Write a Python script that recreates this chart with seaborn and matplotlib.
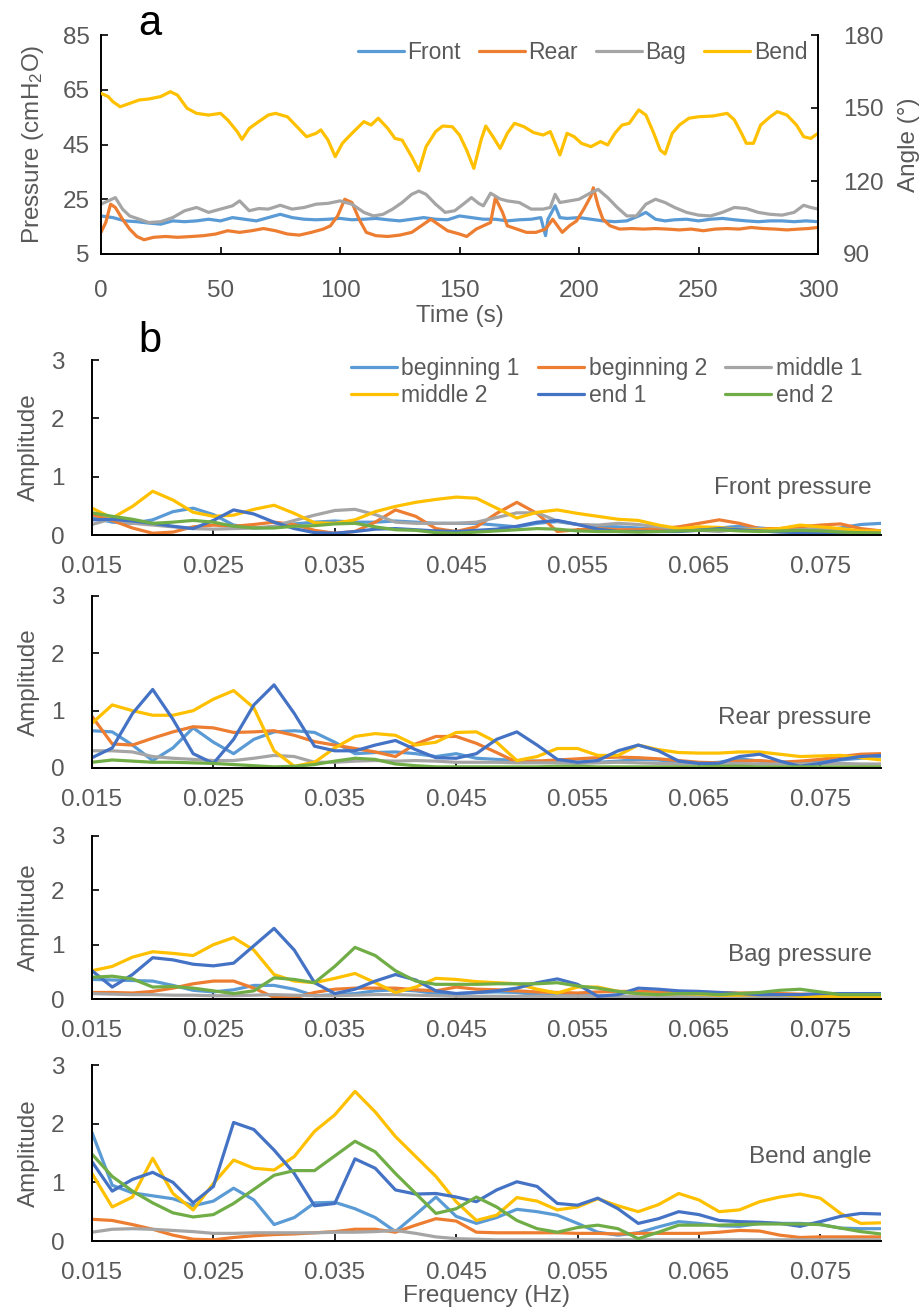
import numpy as np
import pandas as pd
import matplotlib
matplotlib.use('Agg')
import matplotlib.pyplot as plt
from matplotlib.lines import Line2D
import seaborn as sns

sns.set_theme(style='white')
plt.rcParams['font.family'] = ['Liberation Sans', 'DejaVu Sans']
plt.rcParams['mathtext.default'] = 'regular'

GREY = '#595959'

# ---------------- panel a: time series ----------------
front_t = [0, 5, 10, 15, 20, 25, 30, 35, 40, 45, 50, 55, 60, 65, 70, 75, 80, 85, 90, 95,
           100, 105, 110, 115, 120, 125, 130, 135, 140, 145, 150, 155, 160, 165, 170, 175, 180,
           184, 186, 187, 190, 192, 195, 200, 205, 210, 215, 220, 225, 228, 232, 236,
           240, 245, 250, 255, 260, 265, 270, 275, 280, 285, 290, 295, 300]
front_p = [18.9, 18.3, 17.1, 16.8, 16.3, 15.9, 17.1, 16.8, 17.1, 17.7, 17.1, 18.3, 17.7, 17.1,
           18.3, 19.5, 18.3, 17.7, 17.5, 17.7, 18.0, 17.5, 17.7, 18.0, 17.5, 17.1, 17.7, 18.3,
           17.7, 17.5, 18.9, 18.3, 17.7, 17.7, 17.1, 17.5, 17.7, 18.3, 11.7, 17.7, 22.6, 18.3,
           18.0, 18.3, 17.7, 17.1, 16.8, 17.1, 18.9, 20.2, 17.7, 17.1, 17.5, 17.7, 17.1, 17.7,
           18.0, 17.5, 17.1, 16.8, 17.1, 17.1, 16.8, 17.1, 16.8]

rear_t = [0, 2, 4, 6, 9, 12, 15, 18, 22, 27, 32, 38, 43, 48, 53, 58, 63, 68, 73, 78,
          83, 88, 93, 96, 99, 102, 105, 108, 111, 115, 120, 125, 130, 134, 138, 141, 145, 150,
          153, 157, 160, 163, 165, 168, 170, 174, 178, 182, 186, 189, 191, 193, 196, 199, 202,
          205, 206, 208, 210, 213, 217, 222, 227, 232, 237, 242, 247, 252, 257, 262, 267, 272,
          277, 282, 287, 292, 296, 300]
rear_p = [12.9, 16.5, 23.2, 22.0, 17.7, 14.1, 11.4, 10.2, 11.1, 11.4, 11.1, 11.4, 11.7, 12.3,
          13.5, 12.9, 13.5, 14.3, 13.5, 12.3, 11.9, 12.9, 14.1, 15.3, 18.9, 25.0, 23.8, 17.7,
          12.9, 11.7, 11.4, 11.9, 12.9, 15.3, 17.7, 15.9, 13.5, 12.3, 11.4, 14.1, 15.3, 16.5,
          25.5, 20.2, 15.3, 14.1, 12.9, 12.9, 14.1, 17.7, 15.3, 12.9, 15.3, 17.1, 21.4, 26.2,
          29.2, 22.6, 17.7, 15.3, 14.1, 14.3, 14.1, 14.3, 14.1, 13.8, 14.1, 13.5, 14.1, 14.3,
          14.1, 14.7, 14.3, 14.1, 13.8, 14.1, 14.3, 14.7]

bag_t = [0, 3, 6, 9, 12, 16, 20, 25, 30, 35, 40, 45, 50, 55, 58, 62, 66, 70, 75, 80,
         85, 90, 95, 100, 105, 110, 114, 118, 122, 126, 130, 133, 136, 140, 144, 148, 152, 155,
         158, 160, 163, 167, 170, 175, 180, 185, 188, 190, 192, 196, 200, 205, 208, 212, 216,
         220, 224, 228, 232, 236, 240, 245, 250, 255, 260, 265, 270, 275, 280, 285, 290, 294,
         297, 300]
bag_p = [23.2, 24.4, 25.6, 21.4, 18.9, 17.7, 16.5, 16.8, 18.3, 20.8, 22.0, 20.2, 21.4, 22.6,
         24.4, 20.8, 21.6, 21.4, 22.8, 21.4, 22.0, 23.2, 23.5, 24.4, 23.2, 20.2, 18.9, 19.5,
         21.4, 23.8, 26.8, 28.0, 26.8, 23.2, 20.2, 20.8, 23.5, 25.6, 23.5, 22.6, 27.2, 25.1,
         24.4, 23.8, 21.4, 21.4, 22.0, 26.8, 23.8, 24.4, 25.0, 27.4, 28.6, 25.6, 22.0, 18.9,
         18.9, 23.2, 25.0, 23.8, 22.0, 20.2, 19.2, 18.9, 20.2, 22.0, 21.6, 20.2, 19.5, 19.2,
         20.2, 22.8, 22.0, 21.4]

bend_t = [0, 3, 5, 8, 12, 16, 20, 25, 29, 32, 36, 40, 45, 50, 53, 57, 59, 62, 66, 70,
          73, 78, 82, 86, 90, 92, 95, 98, 101, 105, 110, 113, 116, 120, 123, 126, 130, 133,
          136, 140, 143, 147, 150, 153, 156, 159, 161, 164, 167, 170, 173, 177, 181, 185, 188,
          190, 192, 195, 198, 201, 205, 209, 212, 215, 218, 221, 225, 228, 231, 234, 236, 239,
          242, 246, 250, 256, 262, 265, 268, 270, 273, 276, 280, 283, 287, 291, 294, 297, 300]
bend_a = [156.0, 154.7, 152.6, 150.5, 151.9, 153.3, 153.7, 154.7, 156.7, 155.3, 149.9, 147.8,
          147.1, 147.8, 145.1, 140.3, 137.1, 141.6, 144.4, 147.1, 147.8, 146.4, 142.3, 138.2,
          139.6, 141.0, 136.8, 130.0, 135.5, 139.6, 144.4, 143.0, 145.8, 141.6, 137.5, 136.8,
          130.0, 124.2, 134.1, 140.3, 142.6, 142.3, 138.9, 132.7, 125.2, 136.8, 142.6, 138.2,
          133.4, 139.6, 143.7, 142.3, 139.9, 138.9, 140.3, 135.5, 130.7, 139.6, 138.2, 135.5,
          134.1, 136.2, 134.8, 139.6, 143.0, 143.7, 149.2, 147.1, 140.3, 132.7, 131.1, 139.6,
          143.0, 145.8, 146.4, 146.7, 147.8, 145.1, 139.6, 135.5, 135.5, 143.0, 146.4, 148.5,
          147.1, 143.0, 138.2, 137.5, 139.6]

# ---------------- panel b: spectra ----------------
freq = np.arange(9, 49) / 600.0
series_names = ['beginning 1', 'beginning 2', 'middle 1', 'middle 2', 'end 1', 'end 2']
series_colors = ['#5B9BD5', '#ED7D31', '#A5A5A5', '#FFC000', '#4472C4', '#70AD47']

front_b1 = [0.30, 0.22, 0.20, 0.26, 0.40, 0.46, 0.35, 0.17, 0.12, 0.13, 0.19, 0.22, 0.24, 0.22, 0.22, 0.24, 0.22, 0.20, 0.20, 0.20,
            0.17, 0.14, 0.20, 0.23, 0.18, 0.15, 0.14, 0.12, 0.10, 0.09, 0.10, 0.12, 0.15, 0.12, 0.09, 0.08, 0.06, 0.12, 0.18, 0.20]
front_b2 = [0.35, 0.25, 0.12, 0.03, 0.05, 0.14, 0.17, 0.15, 0.18, 0.22, 0.18, 0.08, 0.03, 0.06, 0.22, 0.43, 0.32, 0.11, 0.06, 0.14,
            0.37, 0.56, 0.37, 0.06, 0.09, 0.11, 0.09, 0.09, 0.11, 0.14, 0.20, 0.26, 0.20, 0.11, 0.11, 0.14, 0.17, 0.19, 0.11, 0.07]
front_m1 = [0.18, 0.28, 0.20, 0.17, 0.14, 0.11, 0.10, 0.11, 0.12, 0.15, 0.25, 0.34, 0.42, 0.44, 0.35, 0.22, 0.20, 0.20, 0.20, 0.22,
            0.30, 0.38, 0.38, 0.24, 0.18, 0.17, 0.20, 0.18, 0.14, 0.11, 0.08, 0.06, 0.10, 0.11, 0.07, 0.09, 0.11, 0.08, 0.06, 0.06]
front_m2 = [0.46, 0.29, 0.49, 0.75, 0.60, 0.39, 0.32, 0.34, 0.44, 0.51, 0.37, 0.21, 0.20, 0.26, 0.40, 0.49, 0.56, 0.61, 0.65, 0.63,
            0.46, 0.29, 0.39, 0.43, 0.37, 0.32, 0.27, 0.25, 0.17, 0.11, 0.14, 0.13, 0.09, 0.09, 0.11, 0.17, 0.14, 0.11, 0.07, 0.07]
front_e1 = [0.26, 0.27, 0.24, 0.20, 0.15, 0.11, 0.25, 0.43, 0.36, 0.22, 0.11, 0.04, 0.03, 0.06, 0.10, 0.11, 0.09, 0.07, 0.06, 0.08,
            0.10, 0.15, 0.22, 0.25, 0.18, 0.10, 0.06, 0.06, 0.06, 0.06, 0.08, 0.11, 0.09, 0.07, 0.05, 0.04, 0.03, 0.03, 0.03, 0.03]
front_e2 = [0.38, 0.32, 0.27, 0.20, 0.22, 0.25, 0.22, 0.15, 0.12, 0.12, 0.15, 0.16, 0.19, 0.20, 0.14, 0.09, 0.08, 0.04, 0.03, 0.05,
            0.07, 0.09, 0.11, 0.10, 0.07, 0.06, 0.06, 0.05, 0.06, 0.07, 0.08, 0.09, 0.07, 0.06, 0.07, 0.08, 0.07, 0.05, 0.04, 0.03]

rear_b1 = [0.65, 0.63, 0.40, 0.13, 0.35, 0.70, 0.45, 0.25, 0.50, 0.63, 0.65, 0.62, 0.45, 0.25, 0.27, 0.28, 0.25, 0.20, 0.25, 0.17,
           0.15, 0.13, 0.12, 0.10, 0.10, 0.10, 0.12, 0.15, 0.14, 0.10, 0.08, 0.10, 0.16, 0.12, 0.10, 0.10, 0.12, 0.14, 0.17, 0.20]
rear_b2 = [0.90, 0.42, 0.40, 0.52, 0.63, 0.72, 0.70, 0.62, 0.63, 0.65, 0.57, 0.46, 0.40, 0.34, 0.28, 0.20, 0.42, 0.55, 0.55, 0.43,
           0.27, 0.10, 0.12, 0.14, 0.16, 0.18, 0.19, 0.18, 0.16, 0.13, 0.10, 0.09, 0.12, 0.13, 0.10, 0.12, 0.15, 0.20, 0.24, 0.25]
rear_m1 = [0.30, 0.30, 0.28, 0.20, 0.17, 0.15, 0.13, 0.13, 0.17, 0.22, 0.20, 0.10, 0.10, 0.12, 0.13, 0.12, 0.13, 0.12, 0.10, 0.10,
           0.10, 0.09, 0.09, 0.09, 0.08, 0.09, 0.10, 0.09, 0.08, 0.07, 0.07, 0.08, 0.08, 0.07, 0.07, 0.07, 0.08, 0.08, 0.07, 0.07]
rear_m2 = [0.78, 1.10, 1.00, 0.92, 0.92, 1.00, 1.20, 1.35, 1.05, 0.30, 0.03, 0.10, 0.35, 0.55, 0.60, 0.57, 0.40, 0.45, 0.62, 0.63,
           0.45, 0.13, 0.20, 0.34, 0.34, 0.22, 0.22, 0.40, 0.32, 0.27, 0.26, 0.26, 0.28, 0.28, 0.24, 0.20, 0.21, 0.22, 0.18, 0.14]
rear_e1 = [0.18, 0.35, 0.95, 1.37, 0.85, 0.25, 0.08, 0.50, 1.10, 1.45, 0.95, 0.38, 0.30, 0.30, 0.40, 0.48, 0.32, 0.18, 0.17, 0.25,
           0.50, 0.63, 0.40, 0.15, 0.10, 0.13, 0.30, 0.40, 0.30, 0.12, 0.08, 0.08, 0.20, 0.24, 0.12, 0.03, 0.08, 0.15, 0.20, 0.22]
rear_e2 = [0.10, 0.14, 0.12, 0.10, 0.10, 0.09, 0.08, 0.06, 0.04, 0.02, 0.03, 0.06, 0.12, 0.17, 0.15, 0.07, 0.04, 0.02, 0.02, 0.02,
           0.02, 0.02, 0.02, 0.03, 0.03, 0.02, 0.02, 0.02, 0.02, 0.02, 0.02, 0.03, 0.03, 0.02, 0.02, 0.02, 0.02, 0.02, 0.02, 0.02]

bag_b1 = [0.36, 0.35, 0.34, 0.33, 0.25, 0.16, 0.13, 0.17, 0.25, 0.25, 0.18, 0.06, 0.08, 0.10, 0.15, 0.17, 0.15, 0.10, 0.10, 0.12,
          0.13, 0.12, 0.08, 0.06, 0.06, 0.06, 0.05, 0.05, 0.05, 0.05, 0.05, 0.05, 0.05, 0.05, 0.05, 0.05, 0.05, 0.05, 0.05, 0.05]
bag_b2 = [0.12, 0.12, 0.11, 0.14, 0.20, 0.28, 0.33, 0.33, 0.20, 0.03, 0.02, 0.12, 0.18, 0.20, 0.20, 0.20, 0.17, 0.15, 0.22, 0.18,
          0.17, 0.15, 0.13, 0.12, 0.11, 0.13, 0.14, 0.14, 0.13, 0.12, 0.12, 0.12, 0.11, 0.11, 0.10, 0.09, 0.08, 0.08, 0.08, 0.08]
bag_m1 = [0.10, 0.09, 0.08, 0.08, 0.07, 0.07, 0.06, 0.06, 0.07, 0.08, 0.07, 0.06, 0.06, 0.07, 0.08, 0.08, 0.07, 0.06, 0.05, 0.05,
          0.05, 0.05, 0.05, 0.05, 0.05, 0.05, 0.05, 0.05, 0.05, 0.05, 0.05, 0.05, 0.05, 0.05, 0.05, 0.05, 0.05, 0.05, 0.05, 0.05]
bag_m2 = [0.52, 0.60, 0.77, 0.87, 0.84, 0.80, 1.00, 1.13, 0.90, 0.45, 0.33, 0.30, 0.38, 0.47, 0.30, 0.12, 0.22, 0.38, 0.36, 0.32,
          0.30, 0.28, 0.18, 0.11, 0.22, 0.22, 0.14, 0.10, 0.08, 0.10, 0.09, 0.07, 0.07, 0.08, 0.08, 0.05, 0.05, 0.05, 0.05, 0.05]
bag_e1 = [0.52, 0.22, 0.45, 0.76, 0.72, 0.64, 0.61, 0.66, 0.98, 1.30, 0.90, 0.30, 0.10, 0.18, 0.33, 0.45, 0.35, 0.15, 0.10, 0.12,
          0.15, 0.20, 0.30, 0.37, 0.27, 0.05, 0.08, 0.20, 0.18, 0.15, 0.14, 0.12, 0.10, 0.08, 0.08, 0.08, 0.10, 0.10, 0.10, 0.10]
bag_e2 = [0.40, 0.42, 0.37, 0.22, 0.23, 0.20, 0.15, 0.10, 0.15, 0.39, 0.36, 0.30, 0.60, 0.95, 0.80, 0.52, 0.33, 0.27, 0.27, 0.27,
          0.28, 0.28, 0.28, 0.30, 0.24, 0.20, 0.14, 0.10, 0.08, 0.10, 0.10, 0.08, 0.10, 0.12, 0.16, 0.18, 0.13, 0.08, 0.08, 0.08]

bend_b1 = [1.85, 0.95, 0.82, 0.77, 0.72, 0.60, 0.68, 0.90, 0.70, 0.28, 0.40, 0.65, 0.66, 0.55, 0.40, 0.16, 0.45, 0.75, 0.42, 0.30,
           0.40, 0.54, 0.50, 0.44, 0.30, 0.15, 0.10, 0.14, 0.24, 0.33, 0.30, 0.26, 0.25, 0.30, 0.30, 0.30, 0.28, 0.22, 0.21, 0.21]
bend_b2 = [0.37, 0.35, 0.28, 0.20, 0.10, 0.03, 0.02, 0.06, 0.09, 0.11, 0.12, 0.14, 0.16, 0.20, 0.20, 0.15, 0.27, 0.38, 0.34, 0.15,
           0.14, 0.14, 0.14, 0.14, 0.13, 0.13, 0.12, 0.13, 0.13, 0.13, 0.13, 0.15, 0.18, 0.17, 0.10, 0.06, 0.07, 0.07, 0.07, 0.07]
bend_m1 = [0.15, 0.20, 0.21, 0.20, 0.18, 0.16, 0.13, 0.13, 0.14, 0.14, 0.14, 0.14, 0.15, 0.15, 0.16, 0.18, 0.13, 0.07, 0.04, 0.03,
           0.02, 0.02, 0.02, 0.02, 0.02, 0.02, 0.02, 0.02, 0.02, 0.02, 0.02, 0.02, 0.02, 0.02, 0.02, 0.02, 0.02, 0.02, 0.02, 0.02]
bend_m2 = [1.15, 0.58, 0.75, 1.41, 0.81, 0.53, 0.98, 1.38, 1.24, 1.21, 1.44, 1.87, 2.15, 2.55, 2.20, 1.78, 1.44, 1.10, 0.67, 0.35,
           0.44, 0.74, 0.68, 0.53, 0.58, 0.72, 0.60, 0.50, 0.62, 0.81, 0.70, 0.50, 0.53, 0.67, 0.75, 0.80, 0.73, 0.47, 0.30, 0.31]
bend_e1 = [1.35, 0.85, 1.05, 1.17, 1.00, 0.65, 0.93, 2.02, 1.90, 1.55, 1.15, 0.60, 0.64, 1.40, 1.24, 0.87, 0.80, 0.81, 0.75, 0.67,
           0.87, 1.01, 0.93, 0.64, 0.61, 0.73, 0.55, 0.30, 0.38, 0.50, 0.45, 0.35, 0.33, 0.32, 0.30, 0.25, 0.33, 0.42, 0.47, 0.46]
bend_e2 = [1.48, 1.10, 0.85, 0.65, 0.48, 0.41, 0.45, 0.64, 0.88, 1.12, 1.20, 1.20, 1.45, 1.70, 1.52, 1.15, 0.81, 0.47, 0.55, 0.75,
           0.58, 0.35, 0.21, 0.15, 0.23, 0.27, 0.21, 0.04, 0.15, 0.27, 0.27, 0.27, 0.28, 0.29, 0.29, 0.29, 0.28, 0.22, 0.16, 0.12]

panels = [
    ('Front pressure', [front_b1, front_b2, front_m1, front_m2, front_e1, front_e2], 0.27),
    ('Rear pressure', [rear_b1, rear_b2, rear_m1, rear_m2, rear_e1, rear_e2], 0.29),
    ('Bag pressure', [bag_b1, bag_b2, bag_m1, bag_m2, bag_e1, bag_e2], 0.27),
    ('Bend angle', [bend_b1, bend_b2, bend_m1, bend_m2, bend_e1, bend_e2], 0.48),
]

W, H = 923, 1313
fig = plt.figure(figsize=(W / 100, H / 100), dpi=100)


def box(l, t, r, b):
    return [l / W, 1 - b / H, (r - l) / W, (b - t) / H]


def style_axes(ax, xpad, ypad):
    for s in ax.spines.values():
        s.set_color('black')
        s.set_linewidth(1.4)
    ax.spines['top'].set_visible(False)
    ax.spines['right'].set_visible(False)
    ax.tick_params(axis='x', direction='in', length=5, width=1.2, color='black',
                   labelcolor=GREY, labelsize=17.5, pad=xpad, bottom=True)
    ax.tick_params(axis='y', direction='in', length=5, width=1.2, color='black',
                   labelcolor=GREY, labelsize=17.5, pad=ypad, left=True)
    ax.grid(False)


# ---- panel a ----
ax_a = fig.add_axes(box(101, 35, 818, 254))
df_a = pd.concat([
    pd.DataFrame({'Time': front_t, 'Pressure': front_p, 'Signal': 'Front'}),
    pd.DataFrame({'Time': rear_t, 'Pressure': rear_p, 'Signal': 'Rear'}),
    pd.DataFrame({'Time': bag_t, 'Pressure': bag_p, 'Signal': 'Bag'}),
])
pal_a = {'Front': '#5B9BD5', 'Rear': '#ED7D31', 'Bag': '#A5A5A5', 'Bend': '#FFC000'}
sns.lineplot(data=df_a, x='Time', y='Pressure', hue='Signal', palette=pal_a,
             hue_order=['Front', 'Rear', 'Bag'], linewidth=2.3, ax=ax_a, legend=False)
ax_a.set_xlim(0, 300)
ax_a.set_ylim(5, 85)
ax_a.set_xticks(range(0, 301, 50))
ax_a.set_yticks([5, 25, 45, 65, 85])
style_axes(ax_a, xpad=19, ypad=8)
ax_a.set_xlabel('Time (s)', fontsize=17.5, color=GREY, labelpad=2)
ax_a.set_ylabel('Pressure (cmH$_2$O)', fontsize=17.5, color=GREY, labelpad=12)

ax_r = ax_a.twinx()
sns.lineplot(x=bend_t, y=bend_a, color=pal_a['Bend'], linewidth=2.3, ax=ax_r)
ax_r.set_ylim(90, 180)
ax_r.set_yticks([90, 120, 150, 180])
for s in ax_r.spines.values():
    s.set_visible(False)
ax_r.spines['right'].set_visible(True)
ax_r.spines['right'].set_color('black')
ax_r.spines['right'].set_linewidth(1.4)
ax_r.tick_params(axis='y', direction='in', length=5, width=1.2, color='black',
                 labelcolor=GREY, labelsize=17.5, pad=18, right=True)
ax_r.grid(False)
ax_r.set_ylabel('Angle (°)', fontsize=17.5, color=GREY, labelpad=10)

handles = [Line2D([], [], color=pal_a[k], lw=2.3) for k in ['Front', 'Rear', 'Bag', 'Bend']]
leg = ax_r.legend(handles, ['Front', 'Rear', 'Bag', 'Bend'], ncol=4, frameon=False,
                  loc='center right', bbox_to_anchor=(0.985, 0.92), borderaxespad=0,
                  borderpad=0, fontsize=16.5, handlelength=2.0, handletextpad=0.15,
                  columnspacing=0.8)
for t in leg.get_texts():
    t.set_color(GREY)

fig.text(150 / W, 1 - 35 / H, 'a', fontsize=30, ha='center', va='baseline', color='black')
fig.text(150 / W, 1 - 352 / H, 'b', fontsize=30, ha='center', va='baseline', color='black')

# ---- panel b ----
boxes_b = [(92, 360, 881, 535), (92, 596, 881, 768), (92, 836, 881, 999), (92, 1065, 881, 1241)]
axes_b = []
for (title, vals, ty), bx in zip(panels, boxes_b):
    ax = fig.add_axes(box(*bx))
    df = pd.concat([pd.DataFrame({'Frequency': freq, 'Amplitude': v, 'Series': n})
                    for n, v in zip(series_names, vals)])
    sns.lineplot(data=df, x='Frequency', y='Amplitude', hue='Series',
                 hue_order=series_names, palette=dict(zip(series_names, series_colors)),
                 linewidth=2.3, ax=ax, legend=False)
    ax.set_xlim(0.015, 0.08)
    ax.set_ylim(0, 3)
    ax.set_xticks([0.015, 0.025, 0.035, 0.045, 0.055, 0.065, 0.075])
    ax.set_xticklabels(['0.015', '0.025', '0.035', '0.045', '0.055', '0.065', '0.075'])
    ax.set_yticks([0, 1, 2, 3])
    style_axes(ax, xpad=15, ypad=20)
    ax.set_xlabel('')
    ax.set_ylabel('Amplitude', fontsize=17.5, color=GREY, labelpad=8)
    ax.text(0.988, ty, title, transform=ax.transAxes, ha='right', va='center',
            fontsize=17.5, color=GREY)
    axes_b.append(ax)

axes_b[-1].set_xlabel('Frequency (Hz)', fontsize=17.5, color=GREY, labelpad=1)

order = [0, 3, 1, 4, 2, 5]
hb = [Line2D([], [], color=series_colors[i], lw=2.3) for i in order]
leg_b = axes_b[0].legend(hb, [series_names[i] for i in order], ncol=3, frameon=False,
                         loc='center right', bbox_to_anchor=(0.976, 0.874), borderaxespad=0,
                         borderpad=0, fontsize=16.5, handlelength=2.0, handletextpad=0.2,
                         columnspacing=0.8, labelspacing=0.15)
for t in leg_b.get_texts():
    t.set_color(GREY)

fig.savefig('out.png', dpi=100)
